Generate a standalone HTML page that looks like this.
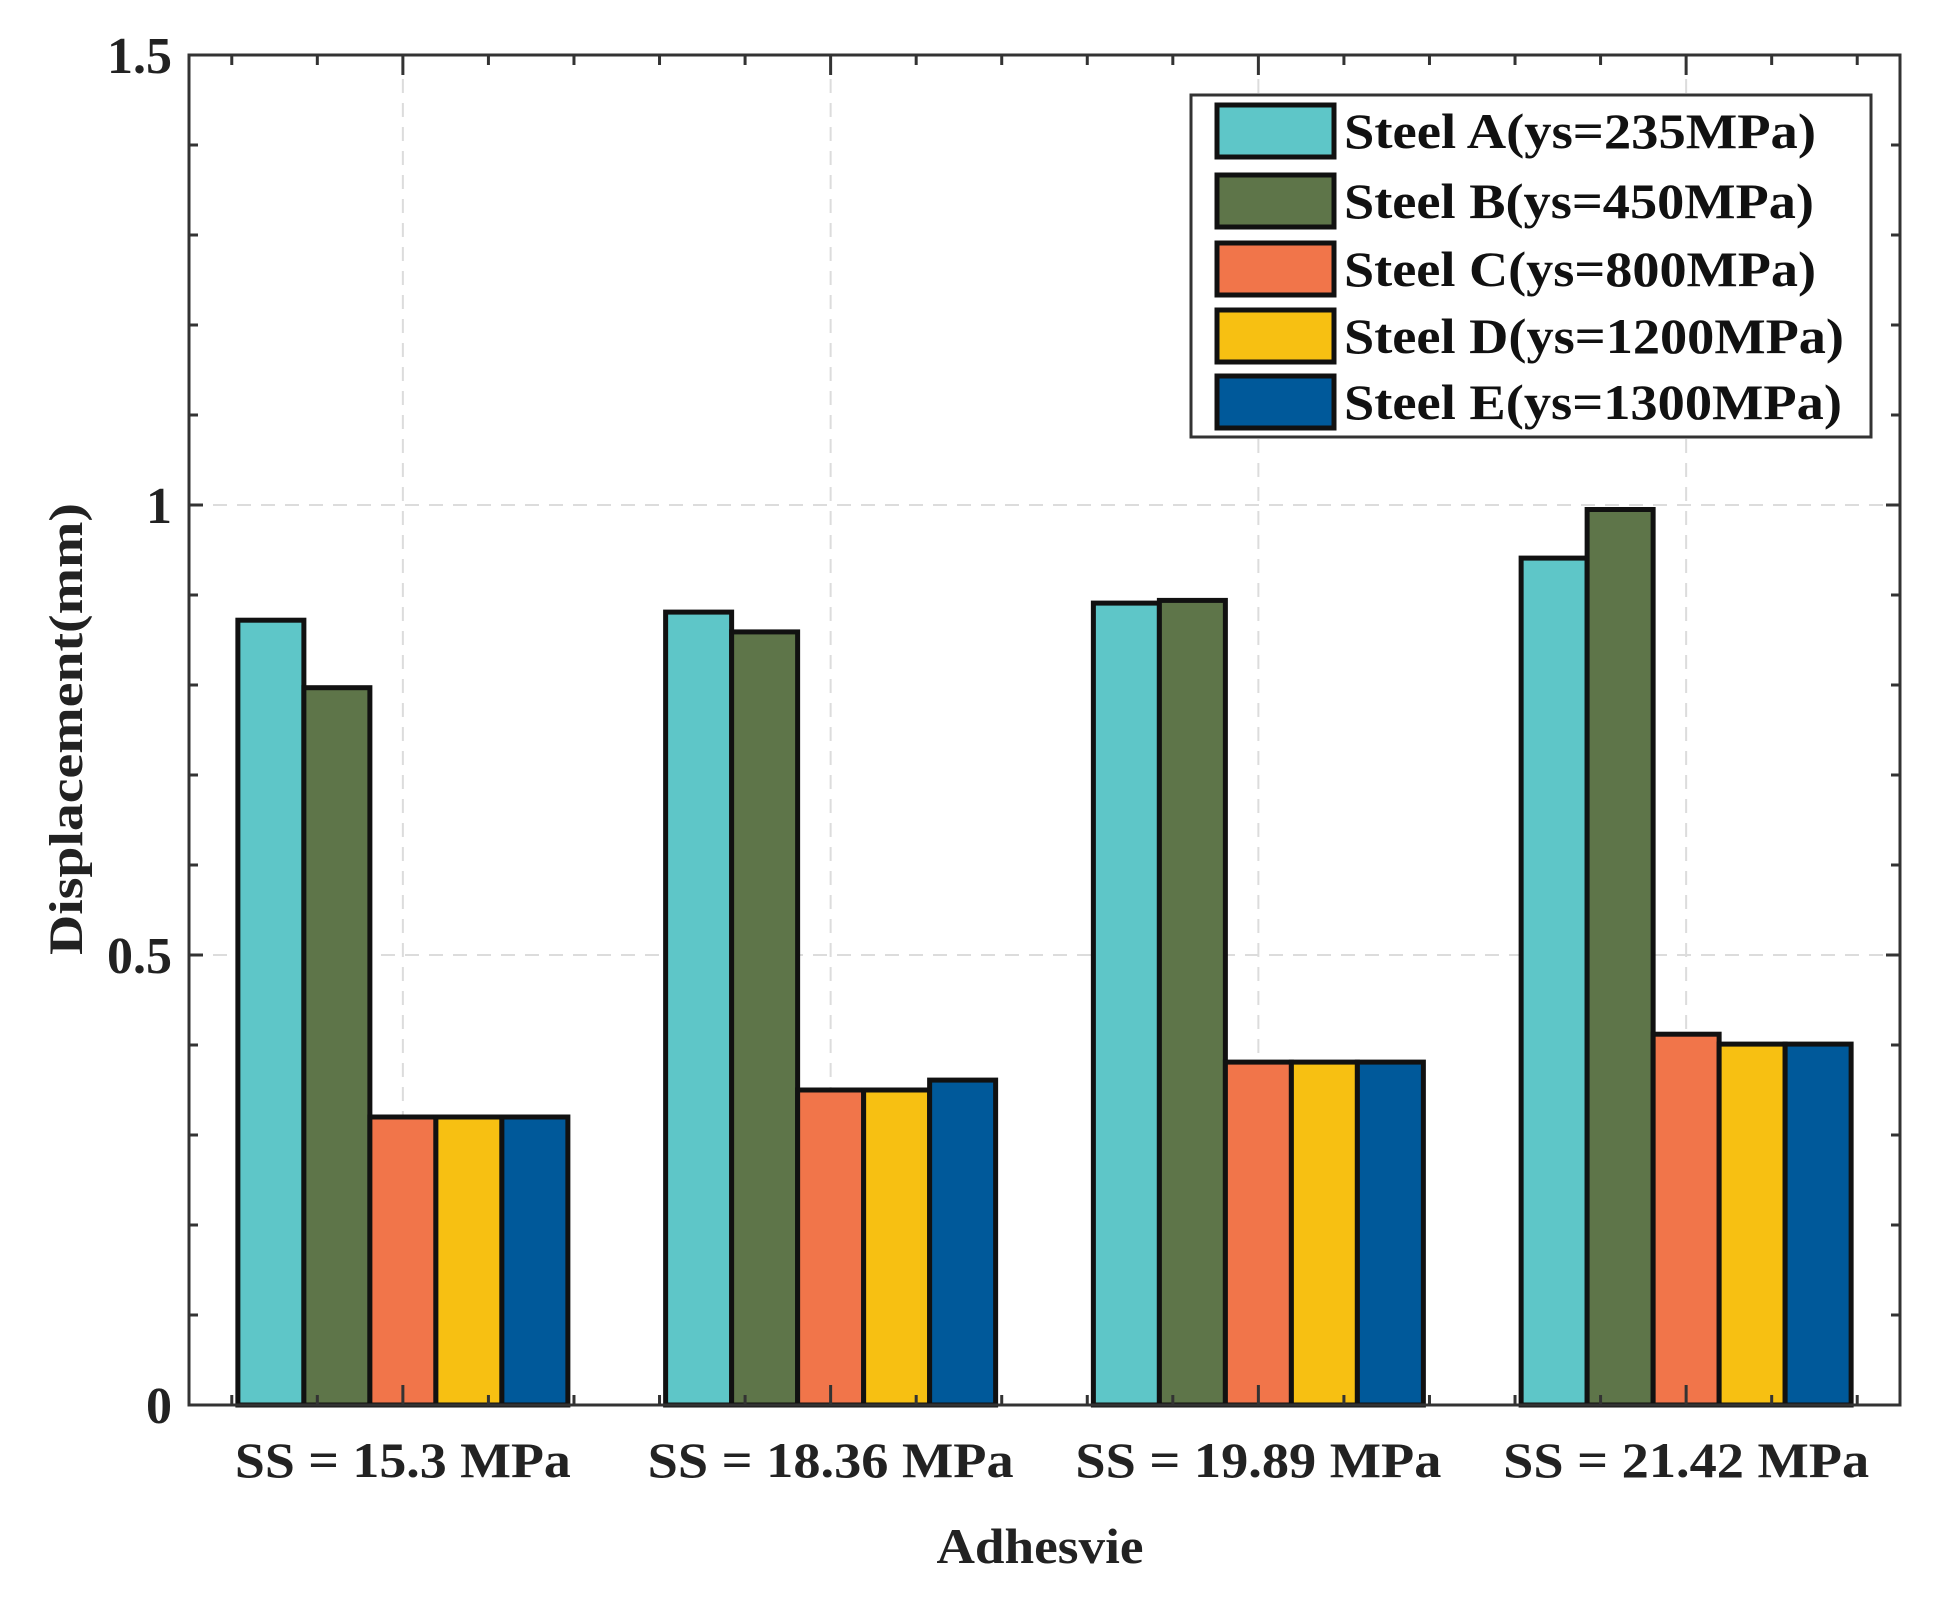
<!DOCTYPE html>
<html><head><meta charset="utf-8"><style>
html,body{margin:0;padding:0;background:#fff;}
svg{display:block;font-family:"Liberation Serif",serif;font-weight:bold;}
</style></head><body>
<svg id="chart" width="1951" height="1601" viewBox="0 0 1951 1601" xmlns="http://www.w3.org/2000/svg">
<g id="grid"></g>
<g id="bars"></g>
<g id="axes"></g>
<text x="1040" y="1563" font-size="50" text-anchor="middle" fill="#222" textLength="207" lengthAdjust="spacingAndGlyphs">Adhesvie</text>
<text transform="translate(82,729) rotate(-90)" font-size="48" text-anchor="middle" fill="#222" textLength="452" lengthAdjust="spacingAndGlyphs">Displacement(mm)</text>
<g id="legend"></g>
</svg>
<script>
const categories = ["SS = 15.3 MPa","SS = 18.36 MPa","SS = 19.89 MPa","SS = 21.42 MPa"];
const seriesNames = ["Steel A(ys=235MPa)","Steel B(ys=450MPa)","Steel C(ys=800MPa)","Steel D(ys=1200MPa)","Steel E(ys=1300MPa)"];
const steelA = [0.872,0.881,0.891,0.941];
const steelB = [0.797,0.859,0.894,0.995];
const steelC = [0.320,0.350,0.381,0.412];
const steelD = [0.320,0.350,0.381,0.401];
const steelE = [0.320,0.361,0.381,0.401];
const yTicks = [0,0.5,1,1.5];
const yTickLabels = ["0","0.5","1","1.5"];

const series=[steelA,steelB,steelC,steelD,steelE];
const colors=["#5ec6c8","#5e7549","#f1754a","#f7c012","#00599a"];
const NS="http://www.w3.org/2000/svg";
const L=189,R=1900,T=55,B=1405;
const yMax=1.5;
function y(v){return B-(v/yMax)*(B-T);}
const groupW=(R-L)/4;
function xc(i){return L+groupW*(i+0.5);}
const barW=66;
function mk(tag,attrs,parent){const e=document.createElementNS(NS,tag);for(const k in attrs)e.setAttribute(k,attrs[k]);parent.appendChild(e);return e;}
const grid=document.getElementById('grid'),bars=document.getElementById('bars'),axes=document.getElementById('axes'),legend=document.getElementById('legend');
categories.forEach((c,i)=>{const g=mk('line',{x1:xc(i),x2:xc(i),y1:T,y2:B,stroke:'#dcdcdc','stroke-width':2,'stroke-dasharray':'14,10'},grid);

});
yTicks.forEach(v=>{if(v>0&&v<yMax){const g=mk('line',{x1:L,x2:R,y1:y(v),y2:y(v),stroke:'#dcdcdc','stroke-width':2,'stroke-dasharray':'14,10'},grid);

}});
series.forEach((s,si)=>{s.forEach((v,ci)=>{const x=xc(ci)+(si-2.5)*barW;
const r=mk('rect',{x:x,y:y(v),width:barW,height:B-y(v),fill:colors[si],stroke:'#111','stroke-width':5},bars);

});});
const box=mk('rect',{x:L,y:T,width:R-L,height:B-T,fill:'none',stroke:'#333','stroke-width':3},axes);


for(let k=0;k<=15;k++){const yy=y(k*0.1);const len=(k%5===0)?14:9;
mk('line',{x1:L,x2:L+len,y1:yy,y2:yy,stroke:'#333','stroke-width':3},axes);
mk('line',{x1:R,x2:R-len,y1:yy,y2:yy,stroke:'#333','stroke-width':3},axes);}
for(let k=0;k<=20;k++){const xx=L+groupW*(k/5)+groupW*0.1;if(xx>R)continue;const len=(k%5===2)?20:10;
mk('line',{x1:xx,x2:xx,y1:T,y2:T+len,stroke:'#333','stroke-width':3},axes);
mk('line',{x1:xx,x2:xx,y1:B,y2:B-len,stroke:'#333','stroke-width':3},axes);}
yTicks.forEach((v,i)=>{const t=mk('text',{x:172,y:y(v)+18,'font-size':52,'text-anchor':'end',fill:'#222'},axes);t.textContent=yTickLabels[i];

});
categories.forEach((c,i)=>{const t=mk('text',{x:xc(i),y:1477,'font-size':50,'text-anchor':'middle',fill:'#222',textLength:c.length>13?366:336,lengthAdjust:'spacingAndGlyphs'},axes);t.textContent=c;

});
const lb=mk('rect',{x:1191,y:95,width:680,height:342,fill:'#fff',stroke:'#333','stroke-width':3},legend);


const rowsY=[131,201,269,336,402];
const txtW=[472,470,472,500,498];
seriesNames.forEach((n,i)=>{const g=mk('g',{},legend);


mk('rect',{x:1217,y:rowsY[i]-26,width:117,height:52,fill:colors[i],stroke:'#111','stroke-width':5},g);
const t=mk('text',{x:1344,y:rowsY[i]+17,'font-size':50,fill:'#111',textLength:txtW[i],lengthAdjust:'spacingAndGlyphs'},g);t.textContent=n;});
</script>
</body></html>
